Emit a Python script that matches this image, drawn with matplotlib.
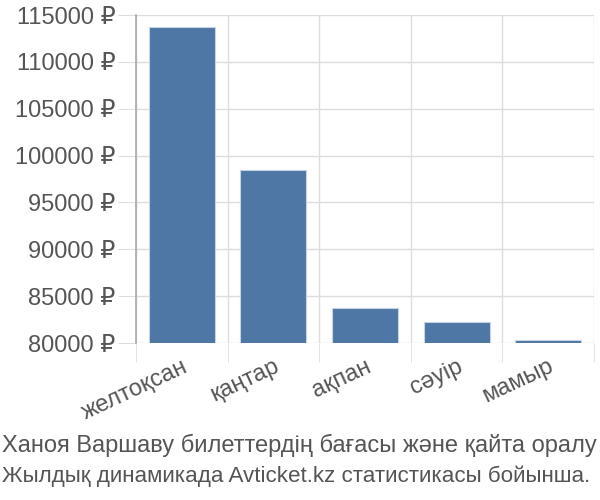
import numpy as np
import matplotlib
matplotlib.use("Agg")
import matplotlib.pyplot as plt

plt.rcParams['font.family'] = ['Liberation Sans', 'DejaVu Sans']

months = ["желтоқсан", "қаңтар", "ақпан", "сәуір", "мамыр"]
prices = [113750, 98450, 83770, 82240, 80320]
yticks = [80000, 85000, 90000, 95000, 100000, 105000, 110000, 115000]
caption_1 = "Ханоя Варшаву билеттердің бағасы және қайта оралу"
caption_2 = "Жылдық динамикада Avticket.kz статистикасы бойынша."

text_color = "#555555"
grid_color = "#dddddd"

fig = plt.figure(figsize=(6, 5), dpi=100)
ax = fig.add_axes([136 / 600, 1 - 343 / 500, 458 / 600, 328 / 500])

x = np.arange(len(months))
ax.bar(x, prices, width=0.72, color="#4e77a5", edgecolor="#c5d3e3",
       linewidth=0.8, zorder=3)

ax.set_xlim(-0.5, len(months) - 0.5)
ax.set_ylim(80000, 115000)

ax.set_yticks(yticks)
ax.set_yticklabels([f"{v} ₽" for v in yticks])
ax.set_xticks(x)
ax.set_xticklabels(months, rotation=25, ha="right", rotation_mode="anchor")
ax.set_xticks(np.arange(len(months) + 1) - 0.5, minor=True)

ax.tick_params(axis="y", length=13, color=grid_color, labelsize=17,
               labelcolor=text_color, pad=2)
ax.tick_params(axis="x", which="major", length=0, labelsize=17,
               labelcolor=text_color, pad=9)
ax.tick_params(axis="x", which="minor", length=14, color=grid_color)

ax.grid(True, axis="y", color=grid_color, linewidth=1, zorder=0)
ax.grid(True, axis="x", which="minor", color=grid_color, linewidth=1, zorder=0)

for side in ["top", "right", "bottom"]:
    ax.spines[side].set_visible(False)
ax.spines["left"].set_color("#aaaaaa")
ax.spines["left"].set_linewidth(1.2)

fig.text(0.003, 1 - 445 / 500, caption_1, fontsize=17, color=text_color,
         ha="left", va="center")
fig.text(0.003, 1 - 476 / 500, caption_2, fontsize=16.1, color=text_color,
         ha="left", va="center")

fig.savefig("out.png", dpi=100)
